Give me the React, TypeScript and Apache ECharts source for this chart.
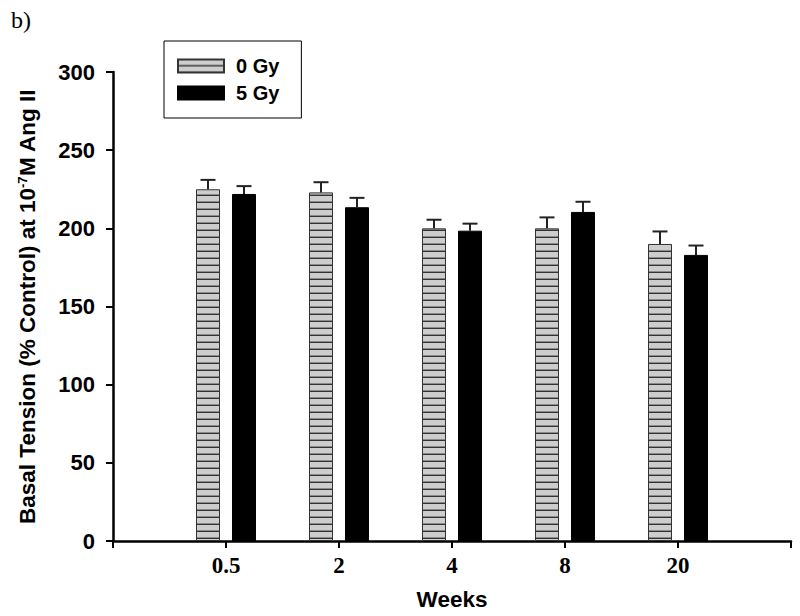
import React, { useEffect, useRef } from 'react';
import * as echarts from 'echarts';

const categories = ['', '0.5', '2', '4', '8', '20', ''];
const seriesNames = ['0 Gy', '5 Gy'];
const gy0Values = [225, 223, 200, 200, 190];
const gy0Errors = [6, 6.5, 5.5, 7, 8];
const gy5Values = [222, 213.5, 198.5, 210.5, 183];
const gy5Errors = [5, 6, 4.5, 6.5, 6];
const yMin = 0;
const yMax = 300;
const yInterval = 50;

const ARIAL = 'Arial, "Liberation Sans", sans-serif';
const TIMES = '"Times New Roman", "Liberation Serif", serif';

function makePattern() {
  const c = document.createElement('canvas');
  c.width = 8;
  c.height = 7;
  const ctx = c.getContext('2d')!;
  ctx.fillStyle = '#cdcdcd';
  ctx.fillRect(0, 0, 8, 7);
  ctx.fillStyle = '#8a8a8a';
  ctx.fillRect(0, 5, 8, 1);
  ctx.fillStyle = '#333333';
  ctx.fillRect(0, 6, 8, 1);
  return { image: c, repeat: 'repeat', imageWidth: 8, imageHeight: 7 } as any;
}

export default function App() {
  const ref = useRef<HTMLDivElement>(null);
  useEffect(() => {
    if (!ref.current) return;
    const chart = echarts.init(ref.current, null, { renderer: 'svg' });
    const pattern = makePattern();
    const pad = (arr: number[]) => ['-', ...arr, '-'];
    const offset = 18;
    const errSeries = (vals: number[], errs: number[], off: number) => ({
      type: 'custom',
      z: 10,
      silent: true,
      data: vals.map((v, i) => [i + 1, v, errs[i]]),
      encode: { x: 0, y: 1 },
      renderItem: (params: any, api: any) => {
        const idx = api.value(0);
        const v = api.value(1);
        const e = api.value(2);
        const base = api.coord([idx, v]);
        const top = api.coord([idx, v + e]);
        const x = base[0] + off;
        return {
          type: 'group',
          children: [
            { type: 'line', shape: { x1: x, y1: base[1], x2: x, y2: top[1] }, style: { stroke: '#222', lineWidth: 2 } },
            { type: 'line', shape: { x1: x - 7.5, y1: top[1], x2: x + 7.5, y2: top[1] }, style: { stroke: '#222', lineWidth: 2 } },
          ],
        };
      },
    });
    chart.setOption({
      animation: false,
      backgroundColor: '#fff',
      title: {
        text: 'b)',
        left: 6,
        top: 3,
        textStyle: { fontFamily: TIMES, fontSize: 24, fontWeight: 'normal', color: '#000' },
      },
      legend: {
        data: seriesNames,
        orient: 'vertical',
        left: 164,
        top: 41,
        itemWidth: 46,
        itemHeight: 13,
        itemGap: 7,
        padding: [15, 22, 15, 13],
        borderColor: '#000',
        borderWidth: 1,
        icon: 'rect',
        textStyle: { fontFamily: ARIAL, fontSize: 20, fontWeight: 'bold', color: '#000', padding: [0, 0, 0, 7] },
      },
      grid: { left: 113, right: 9, top: 72, bottom: 71 },
      xAxis: {
        type: 'category',
        data: categories,
        boundaryGap: false,
        name: 'Weeks',
        nameLocation: 'middle',
        nameGap: 47,
        nameTextStyle: { fontFamily: ARIAL, fontSize: 22.5, fontWeight: 'bold', color: '#000' },
        axisLine: { lineStyle: { color: '#000', width: 2.5 } },
        axisTick: { show: true, length: 7, lineStyle: { color: '#000', width: 2 }, interval: 0 },
        axisLabel: { fontFamily: TIMES, fontSize: 23, fontWeight: 'bold', color: '#000', margin: 13, interval: 0 },
        splitLine: { show: false },
      },
      yAxis: {
        type: 'value',
        min: yMin,
        max: yMax,
        interval: yInterval,
        name: 'Basal Tension (% Control) at 10{sup|-7}M Ang II',
        nameLocation: 'middle',
        nameGap: 74,
        nameTextStyle: {
          fontFamily: ARIAL,
          fontSize: 22.5,
          fontWeight: 'bold',
          color: '#000',
          rich: {
            sup: { fontFamily: ARIAL, fontSize: 13, fontWeight: 'bold', color: '#000', verticalAlign: 'top', lineHeight: 22 },
          },
        },
        axisLine: { show: true, lineStyle: { color: '#000', width: 2.5 } },
        axisTick: { show: true, length: 7, lineStyle: { color: '#000', width: 2 } },
        axisLabel: { fontFamily: ARIAL, fontSize: 22, fontWeight: 'bold', color: '#000', margin: 18 },
        splitLine: { show: false },
      },
      series: [
        {
          name: seriesNames[0],
          type: 'bar',
          barWidth: 24,
          barGap: '50%',
          data: pad(gy0Values),
          itemStyle: { color: pattern, borderColor: '#333', borderWidth: 1 },
        },
        {
          name: seriesNames[1],
          type: 'bar',
          barWidth: 24,
          barGap: '50%',
          data: pad(gy5Values),
          itemStyle: { color: '#000', borderColor: '#000', borderWidth: 1 },
        },
        errSeries(gy0Values, gy0Errors, -offset),
        errSeries(gy5Values, gy5Errors, offset),
      ],
    });
    return () => chart.dispose();
  }, []);
  return <div ref={ref} style={{ position: 'fixed', left: 0, top: 0, width: 800, height: 616 }} />;
}
